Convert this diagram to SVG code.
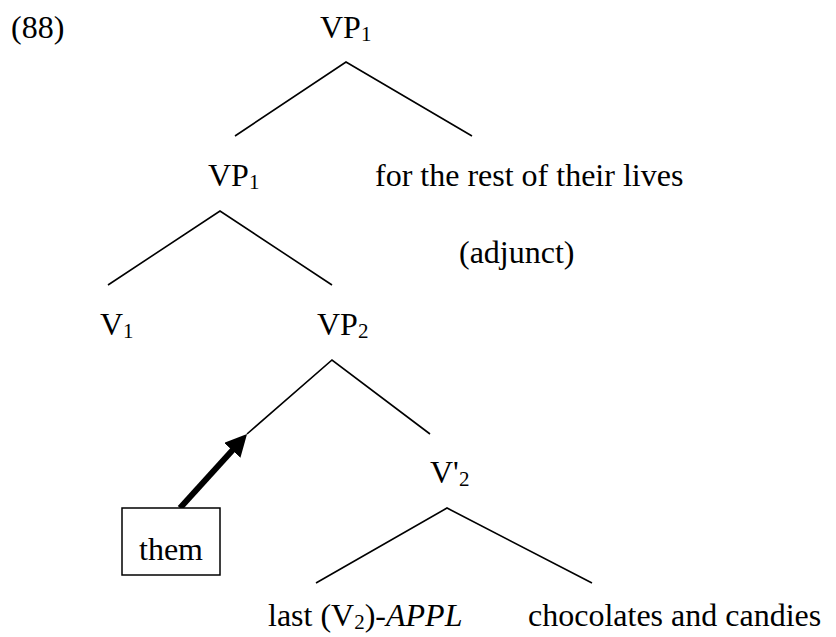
<svg xmlns="http://www.w3.org/2000/svg" width="836" height="637" viewBox="0 0 836 637">
  <style>
    text { font-family: "Liberation Serif", Tinos, "Times New Roman", Times, "DejaVu Serif", serif; font-size: 32px; fill: #000; }
    .sub { font-size: 21px; }
    .it { font-style: italic; }
    .branch { stroke: #000; stroke-width: 1.6; fill: none; stroke-linecap: butt; }
    .move { stroke: #000; stroke-width: 6; fill: none; }
    .box { stroke: #000; stroke-width: 1.5; fill: #fff; }
  </style>
  <defs>
    <marker id="head" viewBox="0 0 22 22" refX="6" refY="11" markerWidth="22" markerHeight="22" markerUnits="userSpaceOnUse" orient="auto">
      <path d="M0,0 L22,11 L0,22 Z" fill="#000"/>
    </marker>
  </defs>
  <rect width="836" height="637" fill="#fff"/>

  <text id="example-number" x="11" y="38" font-family="Liberation Serif, serif">(88)</text>

  <!-- tree branches -->
  <g id="connectors">
    <path class="branch" d="M235,136 L346,62 L472,136"/>
    <path class="branch" d="M108,285 L220,211 L332,285"/>
    <path class="branch" d="M247,434 L332,360 L430,434"/>
    <path class="branch" d="M316,583 L447,508 L592,583"/>
    <!-- movement of the object -->
    <line class="move" x1="180" y1="508" x2="236.3" y2="445.9" marker-end="url(#head)"/>
  </g>

  <g id="vp1-root"><text x="320" y="38">VP<tspan class="sub" dy="3">1</tspan></text></g>
  <g id="vp1-inner"><text x="208" y="186">VP<tspan class="sub" dy="3">1</tspan></text></g>
  <g id="adjunct">
    <text x="375" y="186">for the rest of their lives</text>
    <text x="459" y="263">(adjunct)</text>
  </g>
  <g id="v1"><text x="100" y="335">V<tspan class="sub" dy="3">1</tspan></text></g>
  <g id="vp2"><text x="317" y="335">VP<tspan class="sub" dy="3">2</tspan></text></g>
  <g id="v-bar2"><text x="430" y="483">V'<tspan class="sub" dy="3">2</tspan></text></g>
  <g id="them">
    <rect class="box" x="122" y="508" width="98" height="67"/>
    <text x="171" y="560" text-anchor="middle">them</text>
  </g>
  <g id="verb"><text x="268" y="626">last (V<tspan class="sub" dy="3">2</tspan><tspan dy="-3">)-</tspan><tspan class="it">APPL</tspan></text></g>
  <g id="object"><text x="528" y="626">chocolates and candies</text></g>
</svg>
